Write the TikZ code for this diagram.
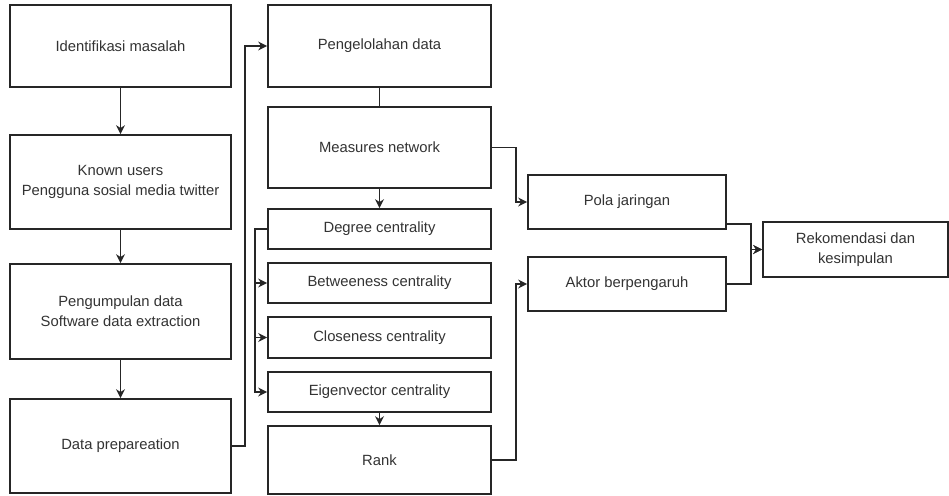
\documentclass[tikz,border=0pt]{standalone}
\usepackage{fontspec}
\setmainfont{Liberation Sans}
\usetikzlibrary{arrows.meta}

\begin{document}
\begin{tikzpicture}[x=1pt, y=-1pt,
		box/.style={draw=black!85, line width=1.7pt, fill=white, text=black!80, align=center,
			font=\fontsize{14.8}{20}\selectfont, inner sep=0pt},
		wide/.style={box, minimum width=221pt},
		mid/.style={box, minimum width=223pt},
		side/.style={box, minimum width=198pt, minimum height=54pt},
		line/.style={draw=black!85, line width=1.6pt},
		arr/.style={line, -{Stealth[length=9pt, width=9pt]}}]
	\useasboundingbox (0,0) rectangle (949,495);
	% left column
	\node[wide, minimum height=82pt] (ident) at (120.5,46) {Identifikasi masalah};
	\node[wide, minimum height=94pt] (known) at (120.5,182) {Known users\\Pengguna sosial media twitter};
	\node[wide, minimum height=95pt] (kumpul) at (120.5,311.5) {Pengumpulan data\\Software data extraction};
	\node[wide, minimum height=94pt] (prep) at (120.5,446) {Data prepareation};
	% middle column
	\node[mid, minimum height=82pt] (olah) at (379.5,46) {Pengelolahan data};
	\node[mid, minimum height=81pt] (measure) at (379.5,147.5) {Measures network};
	\node[mid, minimum height=40pt] (degree) at (379.5,229) {Degree centrality};
	\node[mid, minimum height=40pt] (between) at (379.5,283) {Betweeness centrality};
	\node[mid, minimum height=41pt] (close) at (379.5,337.5) {Closeness centrality};
	\node[mid, minimum height=40pt] (eigen) at (379.5,392) {Eigenvector centrality};
	\node[mid, minimum height=68pt] (rank) at (379.5,460) {Rank};
	% right side
	\node[side] (pola) at (627,202) {Pola jaringan};
	\node[side] (aktor) at (627,284) {Aktor berpengaruh};
	\node[box, minimum width=185pt, minimum height=55pt] (rekom) at (855.5,249.5) {Rekomendasi dan\\kesimpulan};

	\draw[arr] (ident) -- (known);
	\draw[arr] (known) -- (kumpul);
	\draw[arr] (kumpul) -- (prep);
	\draw[arr] (prep.east) -- ++(13,0) |- (olah.west);
	\draw[line] (olah) -- (measure);
	\draw[arr] (measure) -- (degree);
	\foreach \m in {between, close, eigen}
		\draw[arr] (degree.west) -- ++(-12,0) |- (\m.west);
	\draw[arr] (eigen) -- (rank);
	\draw[arr] (measure.east) -- ++(24,0) |- (pola.west);
	\draw[arr] (rank.east) -- ++(24,0) |- (aktor.west);
	\draw[arr] ([yshift=6pt]pola.south east) -- ++(24,0) |- (rekom.west);
	\draw[arr] (aktor.east) -- ++(24,0) |- (rekom.west);
\end{tikzpicture}
\end{document}
